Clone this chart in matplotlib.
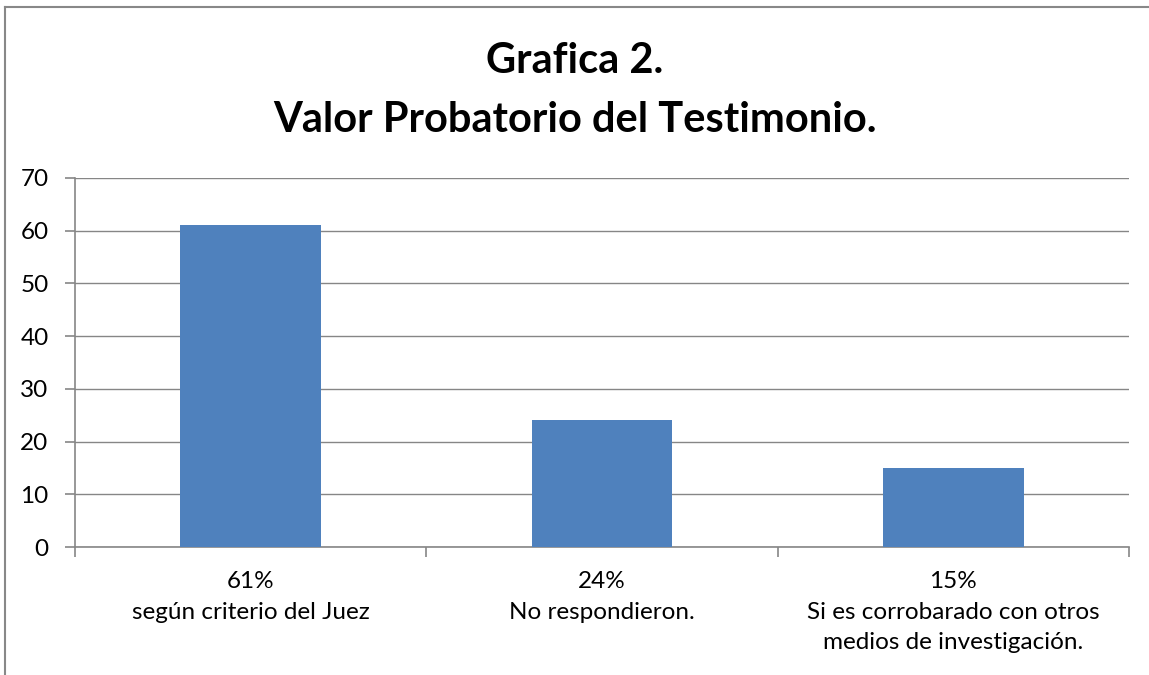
import matplotlib
matplotlib.use("Agg")
import matplotlib.pyplot as plt
import matplotlib.transforms as mtransforms
from matplotlib.lines import Line2D

categories = ["61%\nsegún criterio del Juez", "24%\nNo respondieron.",
              "15%\nSi es corrobarado con otros\nmedios de investigación."]
values = [61, 24, 15]
yticks = [0, 10, 20, 30, 40, 50, 60, 70]
title_lines = ["Grafica 2.", "Valor Probatorio del Testimonio."]

W, H = 1149, 675
fig = plt.figure(figsize=(W / 100, H / 100), dpi=100)
plt.rcParams['font.family'] = ['Lato', 'DejaVu Sans']

# plot area
x0, x1, ytop, ybot = 75, 1129, 178, 547
ax = fig.add_axes([x0 / W, 1 - ybot / H, (x1 - x0) / W, (ybot - ytop) / H])

grid_c = '#868686'
ax.bar(range(len(values)), values, width=0.4, color='#4F81BD', zorder=3)
ax.set_xlim(-0.5, len(values) - 0.5)
ax.set_ylim(0, 70)
ax.set_yticks(yticks)
ax.set_yticklabels([str(v) for v in yticks], fontsize=17.5)
ax.yaxis.grid(True, color=grid_c, linewidth=1)
ax.set_axisbelow(True)
for s in ['top', 'right']:
    ax.spines[s].set_visible(False)
for s in ['left', 'bottom']:
    ax.spines[s].set_color(grid_c)
    ax.spines[s].set_linewidth(1.2)
ax.tick_params(axis='y', length=7, color=grid_c, width=1.2, pad=12)
ax.set_xticks([-0.5, 0.5, 1.5, 2.5])
ax.set_xticklabels([])
ax.tick_params(axis='x', length=7, color=grid_c, width=1.2)

label_tr = mtransforms.blended_transform_factory(ax.transData, fig.transFigure)
for i, c in enumerate(categories):
    ax.text(i, 1 - 571 / H, c, transform=label_tr, ha='center', va='top',
            fontsize=17.5, linespacing=1.57)

for txt, yb in zip(title_lines, [73, 132]):
    fig.text(0.5, 1 - yb / H, txt, ha='center', va='baseline', fontsize=30,
             fontweight='bold')

# outer frame (partial)
fig.add_artist(Line2D([5 / W, 5 / W], [0, 1 - 7 / H], color='#888888', linewidth=1.5,
                      transform=fig.transFigure))
fig.add_artist(Line2D([5 / W, 1], [1 - 7 / H, 1 - 7 / H], color='#888888', linewidth=1.5,
                      transform=fig.transFigure))

fig.savefig("out.png", dpi=100, facecolor='white')
